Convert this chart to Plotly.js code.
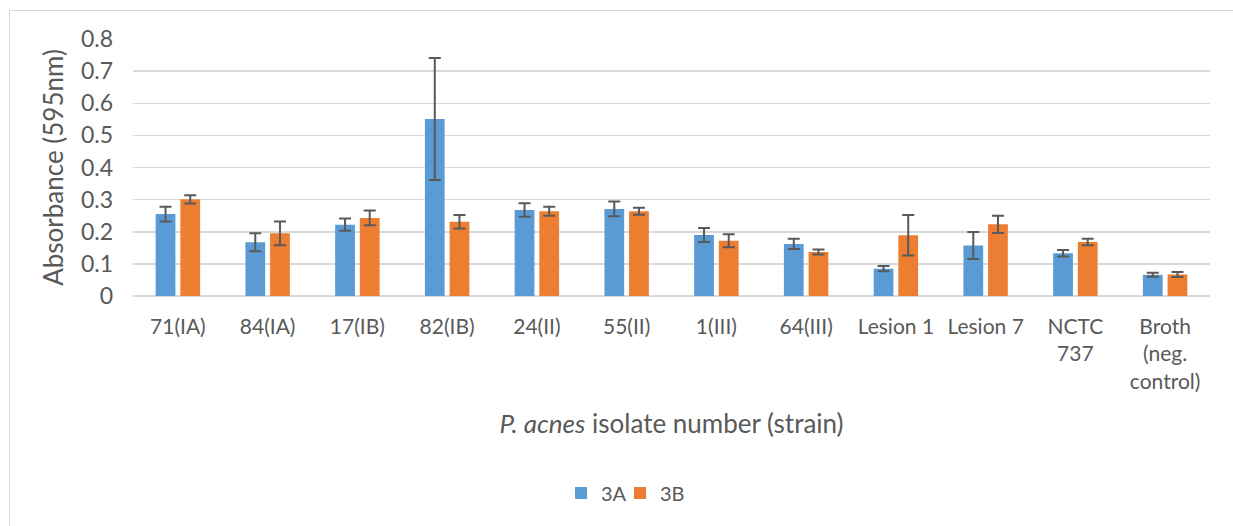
<!DOCTYPE html>
<html>
<head>
<meta charset="utf-8">
<script src="https://cdn.plot.ly/plotly-3.0.1.min.js"></script>
<style>
html,body{margin:0;padding:0;background:#fff;}
#chart{width:1233px;height:526px;position:relative;}
#frame{position:absolute;left:9px;top:10px;width:1300px;height:600px;border-top:1.5px solid #d9d9d9;border-left:1.5px solid #d9d9d9;pointer-events:none;}
</style>
</head>
<body>
<div id="chart"></div>
<div id="frame"></div>
<script>
const categories = ["71(IA)","84(IA)","17(IB)","82(IB)","24(II)","55(II)","1(III)","64(III)","Lesion 1","Lesion 7","NCTC<br>737","Broth<br>(neg.<br>control)"];
const series3A = [0.255,0.167,0.222,0.551,0.268,0.271,0.190,0.162,0.085,0.157,0.133,0.066];
const err3A    = [0.023,0.028,0.019,0.190,0.021,0.023,0.022,0.016,0.008,0.042,0.010,0.006];
const series3B = [0.301,0.195,0.243,0.231,0.264,0.264,0.172,0.137,0.189,0.223,0.168,0.067];
const err3B    = [0.013,0.037,0.023,0.021,0.014,0.011,0.020,0.008,0.063,0.027,0.010,0.008];
const yTicks = [0,0.1,0.2,0.3,0.4,0.5,0.6,0.7,0.8];
const yTickText = ["0","0.1","0.2","0.3","0.4","0.5","0.6","0.7","0.8"];

const font = "Lato, 'Open Sans', sans-serif";
const errStyle = {type:'data', visible:true, color:'#595959', thickness:2, width:6};

const traces = [
  {type:'bar', name:'3A', x:categories, y:series3A, legend:'legend',
   error_y:Object.assign({array:err3A}, errStyle),
   marker:{color:'#5B9BD5'}},
  {type:'bar', name:'3B', x:categories, y:series3B, legend:'legend2',
   error_y:Object.assign({array:err3B}, errStyle),
   marker:{color:'#ED7D31'}}
];

const legendBase = {orientation:'h', xanchor:'left', y:-0.767, yanchor:'middle',
                    font:{size:20, color:'#595959'}, bgcolor:'rgba(0,0,0,0)'};

const layout = {
  width:1233, height:526,
  margin:{l:133, r:23, t:39, b:230},
  paper_bgcolor:'#fff', plot_bgcolor:'#fff',
  font:{family:font, color:'#595959', size:18},
  barmode:'group', bargap:0.45, bargroupgap:0.2,
  showlegend:true,
  legend:Object.assign({x:0.3974}, legendBase),
  legend2:Object.assign({x:0.4522}, legendBase),
  xaxis:{type:'category', tickfont:{size:21, color:'#595959'}, showgrid:false,
         showline:false, ticks:'', automargin:false, ticklabelstandoff:16,
         title:{text:'<i>P. acnes</i> isolate number (strain)', font:{size:26, color:'#595959'}, standoff:23}},
  yaxis:{range:[0,0.8], tickvals:yTicks, ticktext:yTickText,
         tickfont:{size:23, color:'#595959'}, showgrid:true, gridcolor:'#d9d9d9', gridwidth:1.5,
         zeroline:true, zerolinecolor:'#d9d9d9', zerolinewidth:1.5, showline:false, ticks:'',
         ticklabelstandoff:19, automargin:false,
         title:{text:'Absorbance (595nm)', font:{size:26, color:'#595959'}, standoff:9}}
};

Plotly.newPlot('chart', traces, layout, {displayModeBar:false, staticPlot:true});
</script>
</body>
</html>
